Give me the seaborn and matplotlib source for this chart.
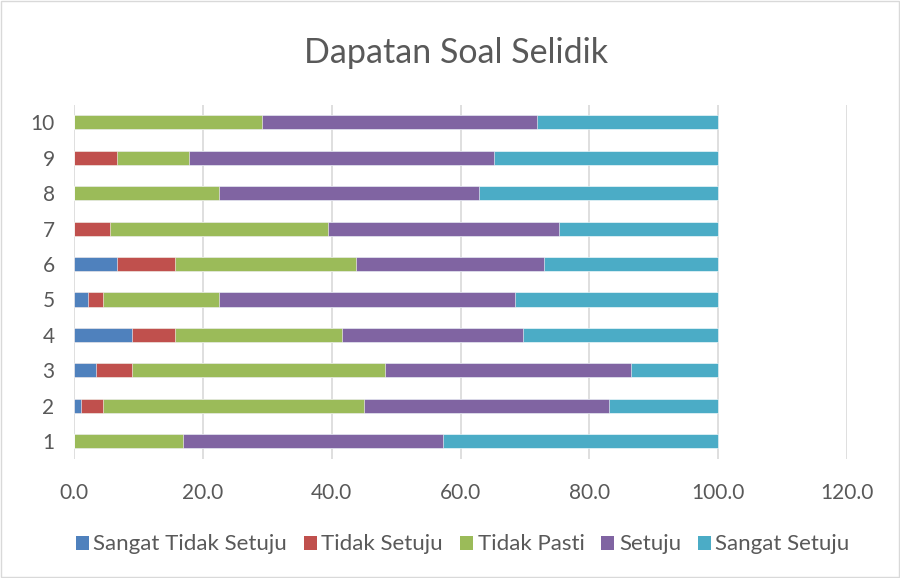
import matplotlib
matplotlib.use("Agg")
import matplotlib.pyplot as plt
import seaborn as sns
import numpy as np
import pandas as pd
from matplotlib.patches import Patch

categories = ["10", "9", "8", "7", "6", "5", "4", "3", "2", "1"]
series_names = ["Sangat Tidak Setuju", "Tidak Setuju", "Tidak Pasti", "Setuju", "Sangat Setuju"]
sangat_tidak_setuju = [0.0, 0.0, 0.0, 0.0, 6.7, 2.2, 9.0, 3.4, 1.1, 0.0]
tidak_setuju        = [0.0, 6.7, 0.0, 5.6, 9.0, 2.3, 6.7, 5.6, 3.4, 0.0]
tidak_pasti         = [29.2, 11.2, 22.5, 33.8, 28.1, 18.0, 25.9, 39.3, 40.5, 16.9]
setuju              = [42.7, 47.3, 40.4, 35.9, 29.2, 46.0, 28.1, 38.1, 38.1, 40.4]
sangat_setuju       = [28.1, 34.8, 37.1, 24.7, 27.0, 31.5, 30.3, 13.6, 16.9, 42.7]
colors = ["#4F81BD", "#C0504D", "#9BBB59", "#8064A2", "#4BACC6"]
xticks = [0, 20, 40, 60, 80, 100, 120]

sns.set_theme(style="white")
plt.rcParams['font.family'] = ['Lato', 'DejaVu Sans']

values = np.array([sangat_tidak_setuju, tidak_setuju, tidak_pasti, setuju, sangat_setuju])
cum = np.cumsum(values, axis=0)

fig = plt.figure(figsize=(9, 5.78), dpi=100)
ax = fig.add_axes([0.0822, 0.206, 0.859, 0.613])

for i in range(len(series_names) - 1, -1, -1):
    df = pd.DataFrame({"cat": categories, "val": cum[i]})
    sns.barplot(data=df, x="val", y="cat", order=categories, orient="h",
                color=colors[i], saturation=1, width=0.4, ax=ax,
                edgecolor="white", linewidth=0.4, zorder=3)

ax.set_xlim(0, 120)
ax.set_xticks(xticks)
ax.set_xticklabels([f"{t:.1f}" for t in xticks])
ax.set_xlabel("")
ax.set_ylabel("")
ax.grid(axis="x", color="#D9D9D9", linewidth=1.2, zorder=0)
ax.grid(axis="y", visible=False)
for s in ax.spines.values():
    s.set_visible(False)
ax.tick_params(axis="both", length=0, labelsize=15, colors="#595959")
ax.tick_params(axis="x", pad=17)
ax.tick_params(axis="y", pad=14)

fig.text(0.507, 0.909, "Dapatan Soal Selidik", ha="center", va="center",
         fontsize=24.5, color="#595959")

handles = [Patch(facecolor=c, edgecolor="none") for c in colors]
fig.legend(handles, series_names, loc="center", bbox_to_anchor=(0.514, 0.058),
           ncol=5, frameon=False, fontsize=16, labelcolor="#595959",
           handlelength=0.6, handleheight=0.6, handletextpad=0.2,
           columnspacing=0.75)

fig.patches.append(plt.Rectangle((0.001, 0.001), 0.998, 0.998, transform=fig.transFigure,
                                 fill=False, edgecolor="#D9D9D9", linewidth=1))

fig.savefig("out.png", dpi=100)
